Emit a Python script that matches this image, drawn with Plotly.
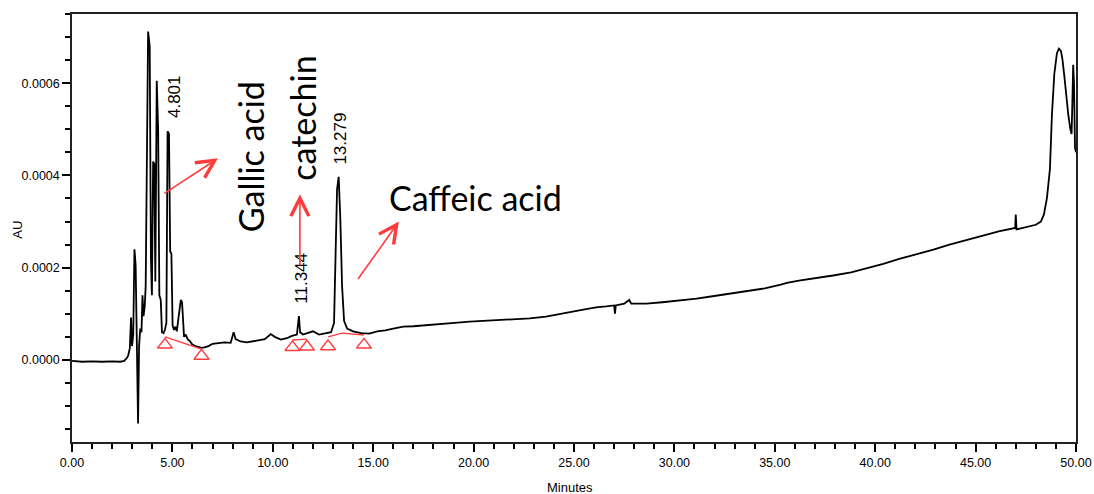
import plotly.graph_objects as go

# ---------------- data ----------------
# flat region before injection disturbance
t_pre = [0.0, 0.5, 1.0, 1.5, 2.0, 2.4, 2.6, 2.75]
au_pre = [-0.000002, -0.000004, -0.000003, -0.000004, -0.000003, -0.000004, -0.000002, 0.000005]

# early peak cluster (gallic acid region)
t_early = [2.80, 2.88, 2.94, 2.99, 3.05, 3.11, 3.17, 3.23, 3.29, 3.34, 3.40, 3.46, 3.51, 3.56,
           3.62, 3.67, 3.73, 3.79, 3.87, 3.93, 3.98, 4.04, 4.10, 4.15, 4.22, 4.29, 4.35, 4.42,
           4.48, 4.56, 4.63, 4.70, 4.76, 4.83, 4.89, 4.95, 5.01, 5.08, 5.15, 5.22, 5.30, 5.36,
           5.42, 5.48, 5.53, 5.58, 5.66, 5.76, 5.88, 6.00, 6.15, 6.30, 6.45, 6.60]
au_early = [0.000010, 0.000025, 0.000092, 0.000030, 0.000055, 0.000240, 0.000205, 0.000040,
            -0.000138, 0.000030, 0.000068, 0.000060, 0.000140, 0.000095, 0.000115, 0.000160,
            0.000412, 0.000712, 0.000680, 0.000220, 0.000140, 0.000430, 0.000425, 0.000170,
            0.000605, 0.000500, 0.000140, 0.000130, 0.000060, 0.000058, 0.000066, 0.000080,
            0.000496, 0.000490, 0.000235, 0.000230, 0.000075, 0.000065, 0.000072, 0.000062,
            0.000090, 0.000110, 0.000130, 0.000125, 0.000080, 0.000050, 0.000055, 0.000045,
            0.000040, 0.000033, 0.000030, 0.000028, 0.000026, 0.000027]

# catechin / caffeic acid region
t_mid = [6.8, 7.0, 7.3, 7.6, 7.9, 8.05, 8.15, 8.4, 8.7, 9.0, 9.3, 9.6, 9.9, 10.1, 10.4, 10.7,
         10.95, 11.2, 11.30, 11.36, 11.5, 11.8, 12.0, 12.3, 12.6, 12.9, 13.05, 13.12, 13.20,
         13.28, 13.36, 13.45, 13.55, 13.7, 14.0, 14.4, 14.8, 15.2, 15.6, 16.0]
au_mid = [0.000030, 0.000035, 0.000037, 0.000038, 0.000037, 0.000060, 0.000045, 0.000040,
          0.000038, 0.000040, 0.000042, 0.000045, 0.000056, 0.000050, 0.000044, 0.000047,
          0.000052, 0.000055, 0.000095, 0.000060, 0.000055, 0.000060, 0.000062, 0.000055,
          0.000058, 0.000060, 0.000080, 0.000220, 0.000370, 0.000397, 0.000310, 0.000160,
          0.000085, 0.000068, 0.000062, 0.000058, 0.000057, 0.000062, 0.000064, 0.000068]

# rising gradient baseline and late wash peak
t_late = [16.5, 17.0, 17.5, 18.0, 18.6, 19.2, 19.8, 20.3, 21.0, 22.0, 22.8, 23.6, 24.3, 25.0,
          25.6, 26.1, 26.6, 27.0, 27.04, 27.08, 27.5, 27.75, 27.85, 28.6, 29.4, 30.3, 31.1,
          31.9, 32.8, 33.6, 34.5, 35.3, 35.6, 36.2, 37.0, 37.9, 38.8, 39.6, 40.4, 41.2, 42.0,
          42.9, 43.7, 44.6, 45.4, 46.2, 46.97, 47.0, 47.04, 47.5, 48.0, 48.25, 48.4, 48.55,
          48.7, 48.8, 48.92, 49.05, 49.15, 49.25, 49.33, 49.42, 49.52, 49.62, 49.72, 49.78,
          49.82, 49.86, 49.9, 49.95, 50.0]
au_late = [0.000072, 0.000073, 0.000075, 0.000077, 0.000080, 0.000081, 0.000083, 0.000084,
           0.000085, 0.000087, 0.000090, 0.000094, 0.000099, 0.000105, 0.000110, 0.000114,
           0.000116, 0.000118, 0.000100, 0.000118, 0.000122, 0.000130, 0.000122, 0.000122,
           0.000125, 0.000129, 0.000133, 0.000138, 0.000144, 0.000148, 0.000155, 0.000163,
           0.000167, 0.000172, 0.000177, 0.000183, 0.000190, 0.000199, 0.000208, 0.000219,
           0.000228, 0.000239, 0.000250, 0.000261, 0.000270, 0.000279, 0.000286, 0.000315,
           0.000283, 0.000288, 0.000293, 0.000300, 0.000315, 0.000350, 0.000413, 0.000530,
           0.000620, 0.000665, 0.000675, 0.000670, 0.000650, 0.000615, 0.000570, 0.000530,
           0.000500, 0.000490, 0.000560, 0.000640, 0.000600, 0.000460, 0.000450]

# integration markers (peak start / end) and drawn baselines
mark_t = [4.63, 6.45, 10.98, 11.70, 12.75, 14.54]
mark_au = [0.0000326, 0.0000087, 0.0000272, 0.0000283, 0.0000293, 0.0000326]
base1_t = [4.63, 6.42]
base1_au = [0.000050, 0.000024]
base2_t = [10.98, 11.70]
base2_au = [0.000043, 0.000045]
base3_t = [12.75, 13.45, 14.54]
base3_au = [0.000050, 0.000058, 0.000054]

# peak retention-time labels
peak_labels = ["4.801", "11.344", "13.279"]
peak_label_t = [5.08, 11.45, 13.35]
peak_label_au = [0.000570, 0.000178, 0.000480]

x_ticks = [0, 5, 10, 15, 20, 25, 30, 35, 40, 45, 50]
x_ticktext = ["0.00", "5.00", "10.00", "15.00", "20.00", "25.00", "30.00", "35.00", "40.00", "45.00", "50.00"]
y_ticks = [0.0, 0.0002, 0.0004, 0.0006]
y_ticktext = ["0.0000", "0.0002", "0.0004", "0.0006"]

# ---------------- figure ----------------
t_all = t_pre + t_early + t_mid + t_late
au_all = au_pre + au_early + au_mid + au_late

RED = "rgb(255,60,60)"
SMALL = "Liberation Sans, Arial, sans-serif"
TICKFONT = dict(family=SMALL, size=12.5, color="black")

fig = go.Figure()
fig.add_trace(go.Scatter(x=t_all, y=au_all, mode="lines",
                         line=dict(color="black", width=1.8), hoverinfo="skip"))
for bt, ba in [(base1_t, base1_au), (base2_t, base2_au), (base3_t, base3_au)]:
    fig.add_trace(go.Scatter(x=bt, y=ba, mode="lines", line=dict(color=RED, width=1.4),
                             hoverinfo="skip"))
fig.add_trace(go.Scatter(x=mark_t, y=mark_au, mode="markers",
                         marker=dict(symbol="triangle-up-open", size=13, color=RED,
                                     line=dict(width=1.5, color=RED)), hoverinfo="skip"))

for txt, tx, ty in zip(peak_labels, peak_label_t, peak_label_au):
    fig.add_annotation(x=tx, y=ty, text=txt, showarrow=False, textangle=-90,
                       font=dict(family=SMALL, size=17, color="black"))

BIG = dict(family="Lato, Open Sans, sans-serif", size=34, color="black")
fig.add_annotation(x=8.9, y=0.000441, text="Gallic acid", showarrow=False, textangle=-90, font=BIG)
fig.add_annotation(x=11.5, y=0.000525, text="catechin", showarrow=False, textangle=-90, font=BIG)
fig.add_annotation(x=20.07, y=0.000352, text="Caffeic acid", showarrow=False, font=BIG)

# red arrows: (tail -> head)
arrows = [((4.53, 0.000359), (7.27, 0.000437)),
          ((11.35, 0.000202), (11.35, 0.000359)),
          ((14.19, 0.000172), (16.28, 0.000300))]
for (tx0, ty0), (tx1, ty1) in arrows:
    fig.add_annotation(x=tx1, y=ty1, ax=tx0, ay=ty0, xref="x", yref="y", axref="x", ayref="y",
                       text="", showarrow=True, arrowhead=5, arrowsize=2.2, arrowwidth=1.6,
                       arrowcolor=RED, standoff=0, startstandoff=0)

# axis titles
fig.add_annotation(xref="paper", yref="paper", x=0.496, y=0, yshift=-55, text="Minutes",
                   showarrow=False, font=dict(family=SMALL, size=13, color="black"))
fig.add_annotation(xref="paper", yref="paper", x=0, y=0.495, xshift=-64, text="AU",
                   textangle=-90, showarrow=False, font=dict(family=SMALL, size=13, color="black"))

fig.update_layout(
    width=1094, height=494,
    margin=dict(l=72, r=18, t=14, b=52),
    paper_bgcolor="white", plot_bgcolor="white",
    showlegend=False,
    xaxis=dict(range=[0, 50], tickmode="array", tickvals=x_ticks, ticktext=x_ticktext,
               ticks="outside", ticklen=8, tickwidth=1.5, tickcolor="black",
               minor=dict(tickmode="linear", tick0=0, dtick=1, ticks="outside", ticklen=5,
                          tickwidth=1.5, tickcolor="black"),
               showline=True, linecolor="#222", linewidth=1.5, mirror=True,
               showgrid=False, zeroline=False, tickfont=TICKFONT,
               automargin=False, ticklabeloverflow="allow"),
    yaxis=dict(range=[-0.000178, 0.00075], tickmode="array", tickvals=y_ticks, ticktext=y_ticktext,
               ticks="outside", ticklen=8, tickwidth=1.5, tickcolor="black",
               minor=dict(tickmode="linear", tick0=0, dtick=0.00005, ticks="outside", ticklen=5,
                          tickwidth=1.5, tickcolor="black"),
               showline=True, linecolor="#222", linewidth=1.5, mirror=True,
               showgrid=False, zeroline=False, tickfont=TICKFONT,
               automargin=False, ticklabeloverflow="allow"),
)

fig.write_html("out.html")
